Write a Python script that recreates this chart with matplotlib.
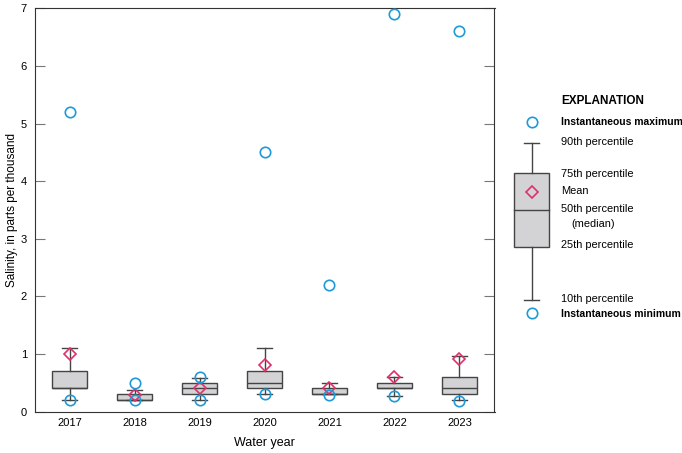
import matplotlib
matplotlib.use('Agg')
import matplotlib.pyplot as plt
from matplotlib.patches import Rectangle
from matplotlib import font_manager

# use a narrow face when one is there, otherwise Liberation Sans
names = set(f.name for f in font_manager.fontManager.ttflist)
base = 'Liberation Sans Narrow' if 'Liberation Sans Narrow' in names else 'Liberation Sans'
plt.rcParams['font.family'] = [base, 'DejaVu Sans']

years = [2017, 2018, 2019, 2020, 2021, 2022, 2023]
p10 = [0.2, 0.2, 0.2, 0.3, 0.3, 0.27, 0.2]
p25 = [0.4, 0.2, 0.3, 0.4, 0.3, 0.4, 0.3]
p50 = [0.4, 0.2, 0.4, 0.5, 0.3, 0.4, 0.4]
p75 = [0.7, 0.3, 0.5, 0.7, 0.4, 0.5, 0.6]
p90 = [1.1, 0.37, 0.58, 1.1, 0.5, 0.6, 0.97]
means = [1.0, 0.28, 0.4, 0.8, 0.4, 0.6, 0.92]
inst_min = [0.2, 0.2, 0.2, 0.3, 0.28, 0.27, 0.18]
inst_max = [5.2, 0.5, 0.6, 4.5, 2.2, 6.9, 6.6]

BLUE = '#1f9ad8'
PINK = '#e0306a'
BOXFILL = '#d3d3d5'
EDGE = '#444444'

fig = plt.figure(figsize=(6.82, 4.53), dpi=100)
ax = fig.add_axes([34.5 / 682, 1 - 411.5 / 453, 460 / 682, 403.2 / 453])

stats = []
for i in range(len(years)):
    stats.append({'whislo': p10[i], 'q1': p25[i], 'med': p50[i], 'q3': p75[i],
                  'whishi': p90[i], 'mean': means[i], 'fliers': []})

ax.bxp(stats, positions=years, widths=0.54, capwidths=0.22, patch_artist=True,
       showmeans=False, showfliers=False,
       boxprops=dict(facecolor=BOXFILL, edgecolor=EDGE, linewidth=1.0),
       medianprops=dict(color=EDGE, linewidth=1.0),
       whiskerprops=dict(color=EDGE, linewidth=1.0),
       capprops=dict(color=EDGE, linewidth=1.0))

ax.plot(years, means, linestyle='none', marker='D', markersize=6.6,
        markerfacecolor='none', markeredgecolor=PINK, markeredgewidth=1.2, zorder=4)
ax.plot(years, inst_max, linestyle='none', marker='o', markersize=7.5,
        markerfacecolor='none', markeredgecolor=BLUE, markeredgewidth=1.2, zorder=5)
ax.plot(years, inst_min, linestyle='none', marker='o', markersize=7.5,
        markerfacecolor='none', markeredgecolor=BLUE, markeredgewidth=1.2, zorder=5)

ax.set_xlim(2016.46, 2023.54)
ax.set_ylim(0, 7)
ax.set_xticks(years)
ax.set_xticklabels([str(y) for y in years], fontsize=8)
ax.tick_params(axis='x', length=0, pad=4.5)
ax.set_yticks(range(8))
ax.tick_params(axis='y', direction='in', length=7, width=0.8, color='#777777',
               right=True, labelsize=8, pad=5.5)
for s in ax.spines.values():
    s.set_color('#333333')
    s.set_linewidth(0.8)
ax.set_xlabel('Water year', fontsize=9, labelpad=6.5)
ax.set_ylabel('Salinity, in parts per thousand', fontsize=8.5, labelpad=2)

# explanation drawn in pixel coordinates
lg = fig.add_axes([0, 0, 1, 1])
lg.set_xlim(0, 682)
lg.set_ylim(453, 0)
lg.axis('off')
cx = 531.5
tx = 561
lg.text(tx, 101, 'EXPLANATION', fontsize=8.5, fontweight='bold', va='center')
lg.plot(cx, 122, marker='o', markersize=7.5, markerfacecolor='none',
        markeredgecolor=BLUE, markeredgewidth=1.2)
lg.text(tx, 122, 'Instantaneous maximum', fontsize=7.5, fontweight='bold', va='center')
lg.plot([cx - 7.5, cx + 7.5], [142.5, 142.5], color=EDGE, lw=1)
lg.plot([cx, cx], [142.5, 172.5], color=EDGE, lw=1)
lg.plot([cx, cx], [246.5, 299.5], color=EDGE, lw=1)
lg.plot([cx - 7.5, cx + 7.5], [299.5, 299.5], color=EDGE, lw=1)
lg.add_patch(Rectangle((514, 172.5), 35, 74, facecolor=BOXFILL, edgecolor=EDGE, lw=1))
lg.plot([514, 549], [210, 210], color=EDGE, lw=1)
lg.plot(cx, 191.5, marker='D', markersize=6.6, markerfacecolor='none',
        markeredgecolor=PINK, markeredgewidth=1.2)
lg.plot(cx, 313, marker='o', markersize=7.5, markerfacecolor='none',
        markeredgecolor=BLUE, markeredgewidth=1.2)
lg.text(tx, 142, '90th percentile', fontsize=7.9, va='center')
lg.text(tx, 174, '75th percentile', fontsize=7.9, va='center')
lg.text(tx, 191, 'Mean', fontsize=7.9, va='center')
lg.text(tx, 209, '50th percentile', fontsize=7.9, va='center')
lg.text(tx + 10, 224, '(median)', fontsize=7.9, va='center')
lg.text(tx, 245, '25th percentile', fontsize=7.9, va='center')
lg.text(tx, 299, '10th percentile', fontsize=7.9, va='center')
lg.text(tx, 314, 'Instantaneous minimum', fontsize=7.5, fontweight='bold', va='center')

fig.savefig('out.png', dpi=100)
